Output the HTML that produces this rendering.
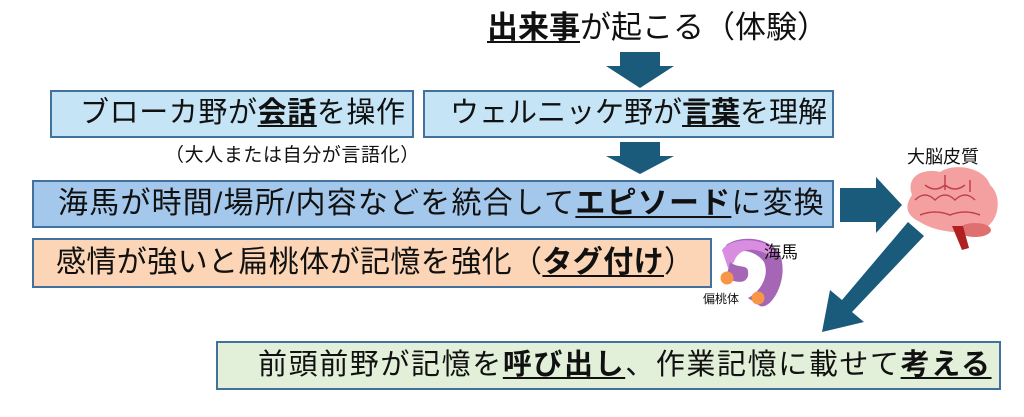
<!DOCTYPE html>
<html><head><meta charset="utf-8"><style>
body{margin:0;width:1024px;height:417px;background:#fff;position:relative;overflow:hidden;font-family:"Liberation Sans","Noto Sans CJK JP",sans-serif;color:#111}
.b{position:absolute;box-sizing:border-box;border:2px solid #41719c;white-space:nowrap;line-height:1}
.t{position:absolute;white-space:nowrap;line-height:1}
u{text-decoration:underline;text-decoration-thickness:2px;text-underline-offset:3px;font-weight:bold}
</style></head><body>
<div class="t" style="left:487px;top:12px;font-size:31px"><u>出来事</u>が起こる（体験）</div>

<svg width="1024" height="417" style="position:absolute;left:0;top:0">
<polygon points="620,52 660,52 660,66 674,66 640,88 606,66 620,66" fill="#1a5a7a"/>
<polygon points="620,142 660,142 660,156 674,156 640,174 606,156 620,156" fill="#1a5a7a"/>
<polygon points="840,188 876,188 876,177 902,205 876,233 876,222 840,222" fill="#1a5a7a"/>
<polygon points="908,222 924,236 852,312 864,322 822,332 830,290 842,300" fill="#1a5a7a"/>
<!-- hippocampus -->
<path d="M726,245 C745,232 780,240 782,262 C786,285 770,310 760,306 L748,298 C760,292 770,276 764,262 C755,250 740,248 730,255 Z" fill="#a566b5"/>
<path d="M722,250 C730,238 760,236 775,250 L770,256 C755,246 738,248 734,262 L728,268 Z" fill="#d98de0"/>
<path d="M730,262 C740,270 750,262 748,276 C745,285 735,282 726,278 Z" fill="#a566b5"/>
<circle cx="727" cy="278" r="6.5" fill="#f79646"/>
<circle cx="758" cy="298" r="6.5" fill="#f79646"/>
<!-- brain -->
<path d="M912,195 C905,175 925,168 940,172 C955,162 985,168 990,185 C1002,195 1000,220 985,228 C965,236 935,232 920,222 C905,215 905,205 912,195 Z" fill="#f4a0a0"/>
<ellipse cx="975" cy="230" rx="16" ry="7" fill="#e07070"/>
<path d="M952,226 L962,250 L969,248 L963,226 Z" fill="#b02020"/>
<path d="M915,200 q10,-10 20,0 q10,-10 20,0 q10,-10 20,0 M925,185 q10,8 20,0 q10,8 20,0 M920,215 q15,-6 30,0 q15,-6 30,0 M945,175 v15 M970,180 v12" stroke="#c04050" stroke-width="1.5" fill="none"/>
</svg>

<div class="b" style="left:50px;top:90px;width:364px;height:48px;background:#c5e4f5"></div>
<div class="t" style="left:80px;top:99px;font-size:29px;letter-spacing:0.6px">ブローカ野が<u>会話</u>を操作</div>
<div class="b" style="left:423px;top:90px;width:411px;height:48px;background:#c5e4f5"></div>
<div class="t" style="left:450px;top:99px;font-size:29px">ウェルニッケ野が<u>言葉</u>を理解</div>
<div class="t" style="left:165px;top:146px;font-size:19px;letter-spacing:0.6px">（大人または自分が言語化）</div>

<div class="b" style="left:32px;top:180px;width:802px;height:48px;background:#a4c8ec"></div>
<div class="t" style="left:58px;top:189px;font-size:30px;letter-spacing:1.2px">海馬が時間/場所/内容などを統合して<u>エピソード</u>に変換</div>

<div class="b" style="left:32px;top:238px;width:680px;height:50px;background:#fbd5b5"></div>
<div class="t" style="left:56px;top:248px;font-size:30px;letter-spacing:0.4px">感情が強いと扁桃体が記憶を強化（<u>タグ付け</u>）</div>

<div class="t" style="left:764px;top:244px;font-size:17px">海馬</div>
<div class="t" style="left:703px;top:293px;font-size:12px">偏桃体</div>
<div class="t" style="left:907px;top:148px;font-size:18px">大脳皮質</div>

<div class="b" style="left:216px;top:341px;width:785px;height:49px;background:#e2f0d9"></div>
<div class="t" style="left:258px;top:351px;font-size:29px;letter-spacing:1.6px">前頭前野が記憶を<u>呼び出し</u>、作業記憶に載せて<u>考える</u></div>
</body></html>
